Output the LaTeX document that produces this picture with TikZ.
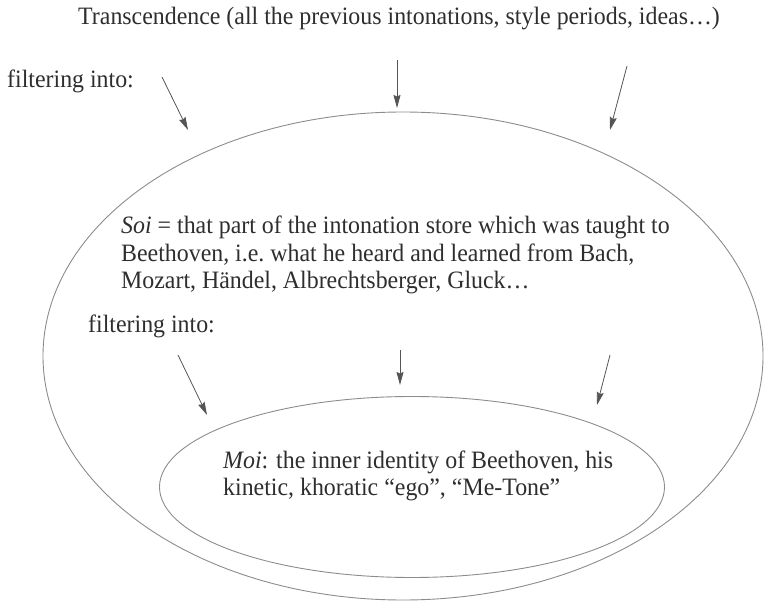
\documentclass[tikz,border=0pt]{standalone}
\usepackage{fontspec}
\setmainfont[FakeStretch=0.955]{Liberation Serif}
\usetikzlibrary{arrows.meta,shapes.geometric}
\definecolor{ink}{HTML}{2E2E2E}
\definecolor{rim}{HTML}{8C8C8C}
\definecolor{shaft}{HTML}{555555}
\tikzset{
  txt/.style={inner sep=0pt, text=ink, font=\fontsize{25}{27.5}\selectfont, align=left},
  ring/.style={draw=rim, line width=0.9pt, ellipse, inner sep=0pt},
  flow/.style={draw=shaft, line width=0.8pt, -{Stealth[length=13pt,width=7pt,inset=1.5pt]}}
}
\begin{document}
\begin{tikzpicture}[x=1pt,y=-1pt]
\useasboundingbox (0,0) rectangle (765,601);

% heading and first label
\node[txt, anchor=base] (trans) at (399,25) {Transcendence (all the previous intonations, style periods, ideas\dots)};
\node[txt, anchor=base west] (filt1) at (7,88) {filtering into:};

% outer and inner ellipses
\node[ring, minimum width=720pt, minimum height=488pt] (soi) at (403,356) {};
\node[ring, minimum width=505pt, minimum height=181pt] (moi) at (412,487) {};

% texts inside (base anchor sits on the last line)
\node[txt, anchor=base west] (soitext) at (121,289) {\textit{Soi} = that part of the intonation store which was taught to\\Beethoven, i.e.\ what he heard and learned from Bach,\\Mozart, Händel, Albrechtsberger, Gluck\dots};
\node[txt, anchor=base west] (filt2) at (88,332) {filtering into:};
\node[txt, anchor=base west] (moitext) at (223,495.5) {\textit{Moi}: the inner identity of Beethoven, his\\kinetic, khoratic “ego”, “Me-Tone”};

% arrow end points
\coordinate (a1s) at (162,77);  \coordinate (a1e) at (188,130);
\coordinate (a2s) at (397,60);  \coordinate (a2e) at (397,108);
\coordinate (a3s) at (627,66);  \coordinate (a3e) at (610,130);
\coordinate (b1s) at (178,355); \coordinate (b1e) at (207,415);
\coordinate (b2s) at (400,350); \coordinate (b2e) at (400,385);
\coordinate (b3s) at (610,355); \coordinate (b3e) at (597,405);

\draw[flow] (a1s) -- (a1e);
\draw[flow] (a2s) -- (a2e);
\draw[flow] (a3s) -- (a3e);
\draw[flow] (b1s) -- (b1e);
\draw[flow] (b2s) -- (b2e);
\draw[flow] (b3s) -- (b3e);
\end{tikzpicture}
\end{document}
